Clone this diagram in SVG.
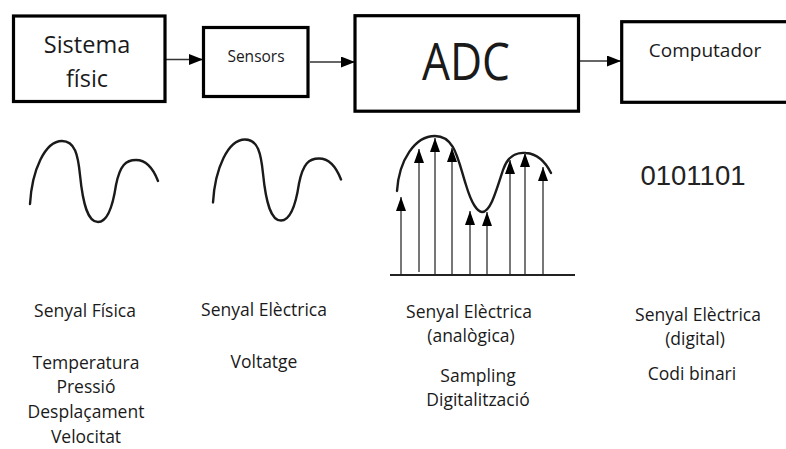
<svg xmlns="http://www.w3.org/2000/svg" width="786" height="449" viewBox="0 0 786 449">
<defs>
<style>
.box{fill:#fff;stroke:#000;stroke-width:3.2}
.lbl{font-family:"Open Sans","Liberation Sans",sans-serif;fill:#1a1a1a;text-anchor:middle}
.cap{font-family:"Open Sans","Liberation Sans",sans-serif;font-size:17.5px;fill:#1a1a1a;text-anchor:middle}
.conn{stroke:#333;stroke-width:1.6;fill:none}
.wave{stroke:#1a1a1a;stroke-width:2.4;fill:none;stroke-linecap:round}
.stem{stroke:#555;stroke-width:1.6}
</style>
<marker id="ah" markerUnits="userSpaceOnUse" markerWidth="15" markerHeight="11" refX="14" refY="5.5" orient="auto">
<path d="M0,0 L14,5.5 L0,11 Z" fill="#000"/>
</marker>
<marker id="sh" markerUnits="userSpaceOnUse" markerWidth="14" markerHeight="11" refX="14" refY="5.5" orient="auto">
<path d="M0,0.5 L14,5.5 L0,10.5 Z" fill="#000"/>
</marker>
</defs>
<g id="connectors">
<line class="conn" x1="166" y1="59.5" x2="203" y2="59.5" marker-end="url(#ah)"/>
<line class="conn" x1="310" y1="62" x2="355" y2="62" marker-end="url(#ah)"/>
<line class="conn" x1="580" y1="61" x2="621" y2="61" marker-end="url(#ah)"/>
</g>
<g id="node-sistema">
<rect class="box" x="13.5" y="16" width="151.5" height="85.5"/>
<text class="lbl" x="87" y="53" font-size="23.5">Sistema</text>
<text class="lbl" x="87" y="87" font-size="23.5">físic</text>
</g>
<g id="node-sensors">
<rect class="box" x="203.5" y="27.5" width="104.5" height="69"/>
<text class="lbl" x="256" y="62" font-size="15.5">Sensors</text>
</g>
<g id="node-adc">
<rect class="box" x="355" y="15.7" width="223.5" height="95.5"/>
<text class="lbl" x="466" y="80" font-size="52" textLength="88" lengthAdjust="spacingAndGlyphs">ADC</text>
</g>
<g id="node-computador">
<rect class="box" x="621.7" y="21.7" width="200" height="80.6"/>
<text class="lbl" x="705" y="57" font-size="19">Computador</text>
</g>
<g id="signal-fisica">
<path class="wave" d="M30,204 C32,170 45,141 62,141 C75,141 78,155 80,175 C83,205 88,222 98,222 C108,222 113,205 116,185 C120,165 126,160 136,160 C146,160 153,168 158,181"/>
</g>
<g id="signal-electrica">
<path class="wave" transform="translate(183,-1.5)" d="M30,204 C32,170 45,141 62,141 C75,141 78,155 80,175 C83,205 88,222 98,222 C108,222 113,205 116,185 C120,165 126,160 136,160 C146,160 153,168 158,181"/>
</g>
<g id="signal-sampling">
<line x1="390" y1="275" x2="575" y2="275" stroke="#222" stroke-width="2"/>
<path class="wave" d="M397,191 C399,160 415,136 435,136 C455,136 458,160 466,185 C472,205 478,212 482,212 C490,212 495,195 503,170 C508,155 517,152 526,153 C538,154 546,163 551,173"/>
<line class="stem" x1="401" y1="274" x2="401" y2="197" marker-end="url(#sh)"/>
<line class="stem" x1="419" y1="272" x2="419" y2="149" marker-end="url(#sh)"/>
<line class="stem" x1="435" y1="274" x2="435" y2="138" marker-end="url(#sh)"/>
<line class="stem" x1="452" y1="274" x2="452" y2="148" marker-end="url(#sh)"/>
<line class="stem" x1="470" y1="274" x2="470" y2="211" marker-end="url(#sh)"/>
<line class="stem" x1="487" y1="274" x2="487" y2="212" marker-end="url(#sh)"/>
<line class="stem" x1="510" y1="274" x2="510" y2="160" marker-end="url(#sh)"/>
<line class="stem" x1="525" y1="274" x2="525" y2="153" marker-end="url(#sh)"/>
<line class="stem" x1="543" y1="274" x2="543" y2="167" marker-end="url(#sh)"/>
</g>
<text x="693" y="185" font-family="'Liberation Sans',Arial,sans-serif" font-size="27.5" fill="#222" text-anchor="middle">0101101</text>
<g id="captions">
<text class="cap" x="85" y="317">Senyal Física</text>
<text class="cap" x="86" y="369">Temperatura</text>
<text class="cap" x="86" y="393">Pressió</text>
<text class="cap" x="86" y="418">Desplaçament</text>
<text class="cap" x="86" y="443">Velocitat</text>
<text class="cap" x="264" y="316">Senyal Elèctrica</text>
<text class="cap" x="264" y="368">Voltatge</text>
<text class="cap" x="469" y="318">Senyal Elèctrica</text>
<text class="cap" x="471" y="342">(analògica)</text>
<text class="cap" x="478" y="382">Sampling</text>
<text class="cap" x="478" y="406">Digitalització</text>
<text class="cap" x="698" y="321">Senyal Elèctrica</text>
<text class="cap" x="695" y="345">(digital)</text>
<text class="cap" x="692" y="380">Codi binari</text>
</g>
</svg>
